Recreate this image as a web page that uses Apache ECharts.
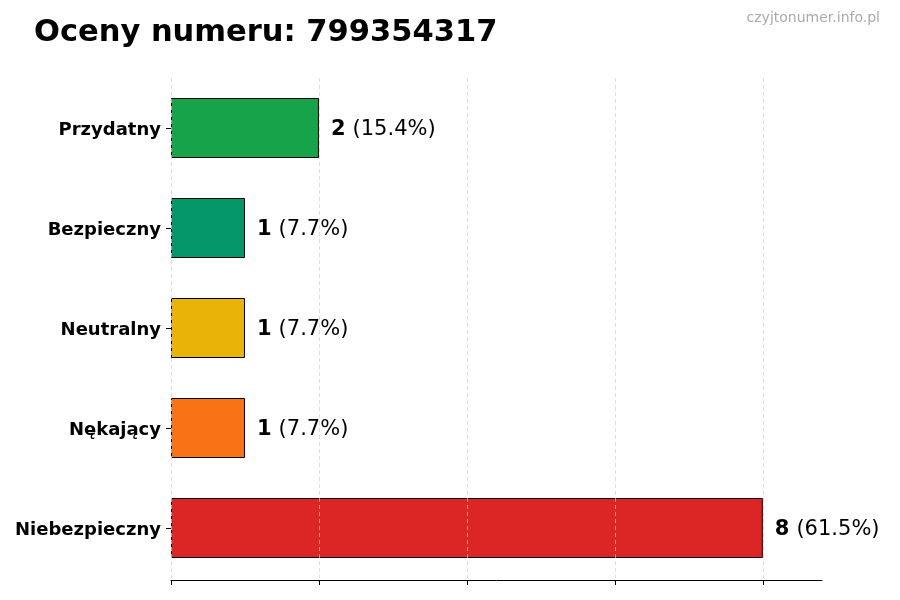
<!DOCTYPE html>
<html>
<head>
<meta charset="utf-8">
<script src="https://cdn.jsdelivr.net/npm/echarts@6/dist/echarts.min.js"></script>
<style>
  html, body { margin: 0; padding: 0; background: #fff; }
  #chart { width: 900px; height: 600px; }
</style>
</head>
<body>
<div id="chart"></div>
<script>
const categories = ['Przydatny', 'Bezpieczny', 'Neutralny', 'Nękający', 'Niebezpieczny'];
const counts = [2, 1, 1, 1, 8];
const percents = ['15.4%', '7.7%', '7.7%', '7.7%', '61.5%'];
const colors = ['#16a34a', '#059669', '#eab308', '#f97316', '#dc2626'];
const xTicks = [0, 2, 4, 6, 8];

const font = 'DejaVu Sans';
const chart = echarts.init(document.getElementById('chart'));

const option = {
  animation: false,
  backgroundColor: '#fff',
  title: [
    {
      text: 'Oceny numeru: 799354317',
      left: 29,
      top: 13,
      textStyle: { fontFamily: font, fontSize: 30.5, fontWeight: 'bold', color: '#000' }
    },
    {
      text: 'czyjtonumer.info.pl',
      right: 15,
      top: 6,
      textStyle: { fontFamily: font, fontSize: 14, fontWeight: 'normal', color: '#aaaaaa' }
    }
  ],
  grid: { left: 171, right: 78, top: 78, height: 500 },
  xAxis: {
    type: 'value',
    min: 0,
    max: 8.8,
    interval: 2,
    z: 5,
    offset: 2,
    axisLine: { show: true, lineStyle: { color: '#000', width: 1 } },
    axisTick: { show: true, length: 5, customValues: xTicks, lineStyle: { color: '#000' } },
    axisLabel: { show: false },
    splitLine: { show: true, customValues: xTicks, lineStyle: { color: '#d4d4d4', type: [4, 3], width: 0.8 } }
  },
  yAxis: {
    type: 'category',
    inverse: true,
    data: categories,
    axisLine: { show: false },
    axisTick: { show: true, alignWithLabel: true, length: 5, lineStyle: { color: '#000' } },
    axisLabel: {
      margin: 10,
      formatter: v => '{c|' + v + '}',
      rich: {
        c: { fontFamily: font, fontSize: 18, fontWeight: 'bold', color: '#000', padding: [4, 0, 0, 0] }
      }
    }
  },
  series: [{
    type: 'bar',
    barWidth: 60,
    z: 2,
    data: counts.map((v, i) => ({
      value: v,
      itemStyle: { color: colors[i], borderColor: '#000', borderWidth: 1 }
    })),
    label: {
      show: true,
      position: 'right',
      distance: 12,
      offset: [0, 2],
      formatter: p => '{b|' + counts[p.dataIndex] + '}{n|(' + percents[p.dataIndex] + ')}',
      rich: {
        b: { fontFamily: font, fontSize: 21, fontWeight: 'bold', color: '#000', padding: [0, 7, 0, 0] },
        n: { fontFamily: font, fontSize: 21, color: '#000' }
      }
    }
  }]
};

chart.setOption(option);
</script>
</body>
</html>
